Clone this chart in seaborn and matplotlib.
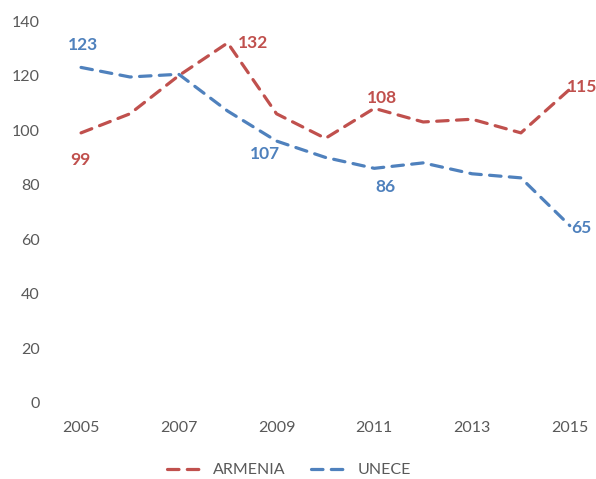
import matplotlib
matplotlib.use("Agg")
import matplotlib.pyplot as plt
import pandas as pd
import seaborn as sns

years = list(range(2005, 2016))
armenia = [99, 106, 120, 132, 106, 97, 108, 103, 104, 99, 115]
unece = [123, 119.5, 120.5, 107, 96, 90, 86, 88, 84, 82.5, 65]
series_names = ["ARMENIA", "UNECE"]
colors = {"ARMENIA": "#C0504D", "UNECE": "#4F81BD"}

# labelled points: (series, year, text, dx px, dy px)
point_labels = [
    ("UNECE", 2005, "123", 2, 22),
    ("ARMENIA", 2005, "99", -1, -27),
    ("ARMENIA", 2008, "132", 25, 0),
    ("UNECE", 2008, "107", 37, -43),
    ("ARMENIA", 2011, "108", 8, 10),
    ("UNECE", 2011, "86", 11, -19),
    ("ARMENIA", 2015, "115", 12, 2),
    ("UNECE", 2015, "65", 12, -2),
]

df = pd.DataFrame({
    "year": years * 2,
    "value": armenia + unece,
    "series": ["ARMENIA"] * len(years) + ["UNECE"] * len(years),
})

sns.set_style("white")
plt.rcParams["font.family"] = ["Lato", "DejaVu Sans"]

fig = plt.figure(figsize=(5.96, 4.79), dpi=100)
ax = fig.add_axes([0.095, 0.159, 0.902, 0.797])

sns.lineplot(
    data=df, x="year", y="value", hue="series", style="series",
    hue_order=series_names, style_order=series_names,
    palette=colors, dashes={"ARMENIA": (3.6, 2.6), "UNECE": (3.6, 2.6)},
    linewidth=2.3, ax=ax, legend=False,
)
for line in ax.get_lines():
    line.set_dash_capstyle("round")

lookup = {"ARMENIA": dict(zip(years, armenia)), "UNECE": dict(zip(years, unece))}
for name, yr, text, dx, dy in point_labels:
    ax.annotate(
        text, (yr, lookup[name][yr]), xytext=(dx, dy), textcoords="offset pixels",
        ha="center", va="center", color=colors[name], fontsize=12.5, fontweight="bold",
    )

ax.set_xlim(2004.5, 2015.5)
ax.set_ylim(0, 140)
ax.set_xticks(range(2005, 2016, 2))
ax.set_yticks(range(0, 141, 20))
ax.tick_params(axis="both", length=0, labelsize=11.5, labelcolor="#595959")
ax.tick_params(axis="x", pad=13)
ax.tick_params(axis="y", pad=12)
ax.set_xlabel("")
ax.set_ylabel("")
sns.despine(ax=ax, left=True, bottom=True)

handles = [
    plt.Line2D([], [], color=colors[n], lw=2.3, dashes=(3.6, 2.6), dash_capstyle="round")
    for n in series_names
]
fig.legend(
    handles, series_names, loc="center", bbox_to_anchor=(0.485, 0.018), ncol=2,
    frameon=False, fontsize=11.5, labelcolor="#595959", handlelength=2.4,
    columnspacing=1.6, handletextpad=0.5,
)

fig.savefig("out.png", dpi=100)
